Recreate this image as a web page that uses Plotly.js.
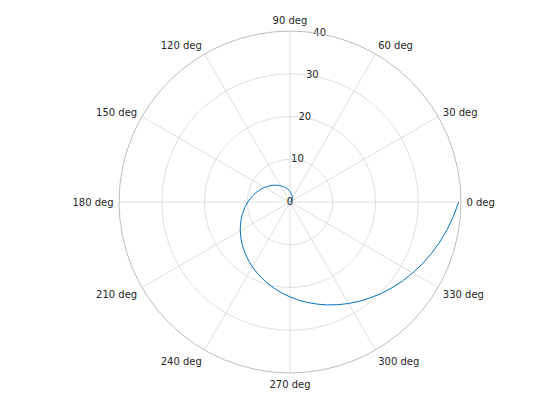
<!DOCTYPE html>
<html>
<head>
<meta charset="utf-8">
<script src="https://cdn.plot.ly/plotly-3.0.1.min.js"></script>
<style>html,body{margin:0;padding:0;background:#fff;}#chart{width:560px;height:420px;}</style>
</head>
<body>
<div id="chart"></div>
<script>
// angle in degrees (every 5 deg from 0 to 360)
const thetaDeg = [0,5,10,15,20,25,30,35,40,45,50,55,60,65,70,75,80,85,90,95,100,105,110,115,120,125,130,135,140,145,150,155,160,165,170,175,180,185,190,195,200,205,210,215,220,225,230,235,240,245,250,255,260,265,270,275,280,285,290,295,300,305,310,315,320,325,330,335,340,345,350,355,360];
// radius read from the spiral
const rho = [0,0.01,0.03,0.07,0.12,0.19,0.27,0.37,0.49,0.62,0.76,0.92,1.10,1.29,1.49,1.71,1.95,2.20,2.47,2.75,3.05,3.36,3.69,4.03,4.39,4.76,5.15,5.55,5.97,6.40,6.85,7.32,7.80,8.29,8.80,9.33,9.87,10.43,11.00,11.58,12.18,12.80,13.43,14.08,14.74,15.42,16.11,16.82,17.55,18.28,19.04,19.81,20.59,21.39,22.21,23.04,23.88,24.74,25.62,26.51,27.42,28.34,29.27,30.23,31.19,32.18,33.17,34.19,35.21,36.26,37.32,38.39,39.48];
const angTickVals = [0,30,60,90,120,150,180,210,240,270,300,330];
const angTickText = ['0 deg','30 deg','60 deg','90 deg','120 deg','150 deg','180 deg','210 deg','240 deg','270 deg','300 deg','330 deg'];
const radTickVals = [0,10,20,30,40];
const radTickText = ['0','10','20','30','40'];
const radLabelAngle = 80;

const trace = {
  type: 'scatterpolar',
  mode: 'lines',
  theta: thetaDeg,
  r: rho,
  line: {color: '#0072BD', width: 1},
  hoverinfo: 'skip'
};

// radial tick labels, drawn through the polar scale along the 80 deg ray
const radLabels = {
  type: 'scatterpolar',
  mode: 'text',
  theta: radTickVals.map(() => radLabelAngle),
  r: radTickVals,
  text: radTickText,
  textposition: 'middle center',
  textfont: {family: 'DejaVu Sans, sans-serif', size: 10, color: '#262626'},
  hoverinfo: 'skip',
  cliponaxis: false
};

const layout = {
  width: 560, height: 420,
  margin: {l: 0, r: 0, t: 0, b: 0},
  paper_bgcolor: '#ffffff',
  showlegend: false,
  font: {family: 'DejaVu Sans, sans-serif', size: 10, color: '#262626'},
  polar: {
    domain: {x: [0.2125, 0.8232], y: [0.112, 0.926]},
    bgcolor: '#ffffff',
    radialaxis: {
      range: [0, 40],
      tickmode: 'array',
      tickvals: radTickVals,
      showticklabels: false,
      angle: 80,
      showline: false,
      ticks: '',
      gridcolor: '#dfdfdf',
      gridwidth: 1
    },
    angularaxis: {
      tickmode: 'array',
      tickvals: angTickVals,
      ticktext: angTickText,
      direction: 'counterclockwise',
      rotation: 0,
      showline: true,
      linecolor: '#bcbcbc',
      linewidth: 1,
      ticks: 'outside',
      ticklen: 3,
      tickcolor: 'rgba(0,0,0,0)',
      gridcolor: '#dfdfdf',
      gridwidth: 1,
      tickfont: {family: 'DejaVu Sans, sans-serif', size: 10, color: '#262626'}
    }
  }
};

Plotly.newPlot('chart', [trace, radLabels], layout, {displayModeBar: false, staticPlot: true});
</script>
</body>
</html>
